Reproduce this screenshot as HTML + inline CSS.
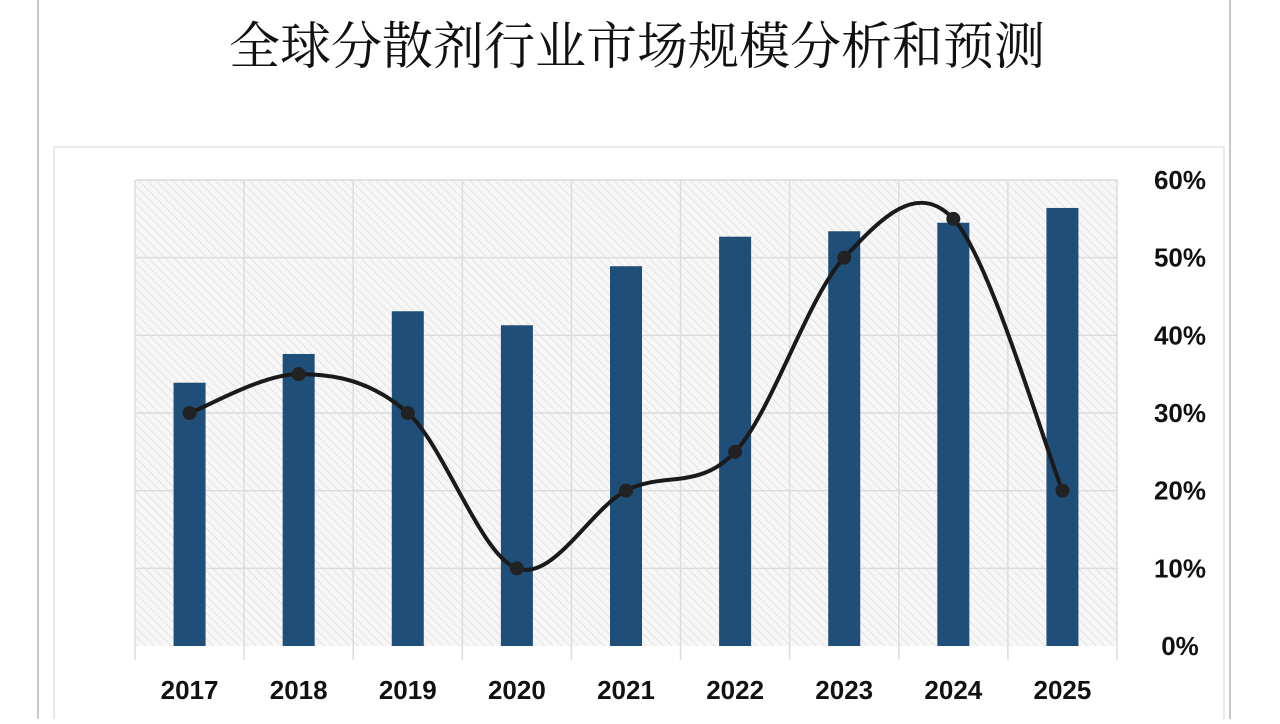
<!DOCTYPE html>
<html><head><meta charset="utf-8"><style>
body{margin:0;width:1280px;height:719px;background:#fff;overflow:hidden;font-family:"Liberation Sans","Noto Sans CJK SC",sans-serif}
</style></head><body>
<svg width="1280" height="719" xmlns="http://www.w3.org/2000/svg">
<defs><pattern id="hatch" width="6" height="6" patternUnits="userSpaceOnUse" patternTransform="rotate(-45)"><rect width="6" height="6" fill="#f7f7f7"/><line x1="0" y1="0" x2="0" y2="6" stroke="#dedede" stroke-width="1.5"/></pattern></defs>
<line x1="38" y1="0" x2="38" y2="719" stroke="#c8c8c8" stroke-width="2"/>
<line x1="1230" y1="0" x2="1230" y2="719" stroke="#c8c8c8" stroke-width="2"/>
<rect x="54" y="147" width="1170" height="600" fill="none" stroke="#e2e2e2" stroke-width="1.5"/>
<text x="637" y="64" text-anchor="middle" font-size="51" font-weight="normal" font-family="'Noto Serif CJK SC','Liberation Serif',serif" fill="#111">全球分散剂行业市场规模分析和预测</text>
<rect x="135" y="180" width="982" height="466" fill="url(#hatch)"/>
<g id="grid"></g>
<g id="bars"></g>
<g id="line"></g>
<g id="axes"></g>
</svg>
<script>
const categories=["2017","2018","2019","2020","2021","2022","2023","2024","2025"];
const marketSize=[339,376,431,413,489,527,534,545,564];
const growthRate=[30,35,30,10,20,25,50,55,20];
const pctTicks=[0,10,20,30,40,50,60];
const X0=135,X1=1117,Y0=646,Y1=180,BAR_MAX=600,PCT_MAX=60;
const step=(X1-X0)/categories.length;
const xC=i=>X0+step*(i+0.5);
const yBar=v=>Y0-(v/BAR_MAX)*(Y0-Y1);
const yPct=v=>Y0-(v/PCT_MAX)*(Y0-Y1);
const NS="http://www.w3.org/2000/svg";
function mk(t,a,p){const e=document.createElementNS(NS,t);for(const k in a)e.setAttribute(k,a[k]);p.appendChild(e);return e;}
const grid=document.getElementById('grid'),bars=document.getElementById('bars'),line=document.getElementById('line'),axes=document.getElementById('axes');
pctTicks.forEach(t=>{const y=yPct(t);
 if(t>0){const g=mk('line',{x1:X0,x2:X1,y1:y,y2:y,stroke:'#dcdcdc','stroke-width':1.5},grid);
 
 }
 const l=mk('text',{x:1180,y:y+9,'text-anchor':'middle','font-size':26,'font-weight':'bold',fill:'#111'},axes);
 l.textContent=t+'%';
 
 
});
for(let i=0;i<=categories.length;i++){const x=X0+step*i;
 const g=mk('line',{x1:x,x2:x,y1:Y1,y2:660,stroke:'#dcdcdc','stroke-width':1.5},grid);
 
 }
categories.forEach((c,i)=>{
 const y=yBar(marketSize[i]);
 const b=mk('rect',{x:xC(i)-16,y:y,width:32,height:Y0-y,fill:'#1f4e79'},bars);
 
 
 const t=mk('text',{x:xC(i),y:699,'text-anchor':'middle','font-size':26,'font-weight':'bold',fill:'#111'},axes);
 t.textContent=c;
 
 
});
const pts=growthRate.map((v,i)=>[xC(i),yPct(v)]);
let d='M'+pts[0][0]+','+pts[0][1];
for(let i=0;i<pts.length-1;i++){const p0=pts[i-1]||pts[i],p1=pts[i],p2=pts[i+1],p3=pts[i+2]||p2,k=1/6;
 d+=' C'+(p1[0]+(p2[0]-p0[0])*k)+','+(p1[1]+(p2[1]-p0[1])*k)+' '+(p2[0]-(p3[0]-p1[0])*k)+','+(p2[1]-(p3[1]-p1[1])*k)+' '+p2[0]+','+p2[1];}
const path=mk('path',{d:d,fill:'none',stroke:'#1a1a1a','stroke-width':4},line);


pts.forEach((p,i)=>{const c=mk('circle',{cx:p[0],cy:p[1],r:7,fill:'#222'},line);
 
 });
</script>
</body></html>
